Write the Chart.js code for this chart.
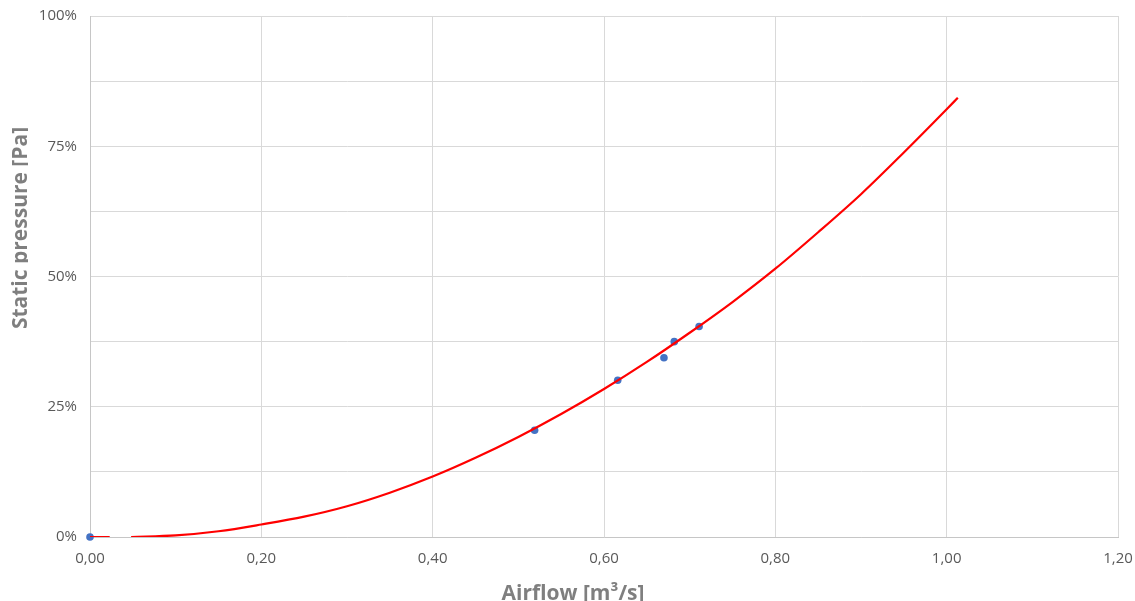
<!DOCTYPE html>
<html>
<head>
<meta charset="utf-8">
<script src="https://cdn.jsdelivr.net/npm/chart.js@4/dist/chart.umd.min.js"></script>
<style>
  html, body { margin: 0; padding: 0; background: #ffffff; }
  #wrap { width: 1135px; height: 601px; position: relative; }
</style>
</head>
<body>
<div id="wrap"><canvas id="chart" width="1135" height="601"></canvas></div>
<script>
// Measured points: airflow [m3/s] and static pressure (fraction of max)
const measuredAirflow  = [0.000, 0.519, 0.616, 0.670, 0.682, 0.711];
const measuredPressure = [0.000, 0.205, 0.301, 0.344, 0.375, 0.404];

// Fitted fan curve (null marks the break near the origin)
const curveAirflow  = [0.000, 0.023, null, 0.048, 0.10, 0.15, 0.20, 0.25, 0.30, 0.35, 0.40, 0.45, 0.50,
                       0.55, 0.60, 0.65, 0.70, 0.75, 0.80, 0.85, 0.90, 0.95, 1.00, 1.013];
const curvePressure = [0.000, 0.000, null, 0.000, 0.003, 0.011, 0.024, 0.039, 0.059, 0.085, 0.116, 0.152, 0.192,
                       0.236, 0.284, 0.336, 0.392, 0.451, 0.515, 0.585, 0.658, 0.738, 0.821, 0.843];

// Axis ticks
const xTicks = [0.00, 0.20, 0.40, 0.60, 0.80, 1.00, 1.20];
const yTicks = [0.00, 0.25, 0.50, 0.75, 1.00];

const xTitle = 'Airflow [m³/s]';
const yTitle = 'Static pressure [Pa]';

const measuredData = measuredAirflow.map((x, i) => ({ x: x, y: measuredPressure[i] }));
const curveData = curveAirflow.map((x, i) => (x === null ? { x: NaN, y: null } : { x: x, y: curvePressure[i] }));

const TEXT = '#595959';
const TITLE = '#7f7f7f';
const FONT = "'Open Sans', 'Liberation Sans', sans-serif";

// Axis titles drawn onto the canvas
const axisTitles = {
  id: 'axisTitles',
  afterDraw(chart) {
    const ctx = chart.ctx;
    ctx.save();
    ctx.fillStyle = TITLE;
    ctx.font = 'bold 21px ' + FONT;
    ctx.textAlign = 'center';
    ctx.textBaseline = 'alphabetic';
    ctx.fillText(xTitle, 573, 600);

    ctx.beginPath();
    ctx.rect(0, 0, 28, chart.height);
    ctx.clip();
    ctx.translate(27, 228);
    ctx.rotate(-Math.PI / 2);
    ctx.fillText(yTitle, 0, 0);
    ctx.restore();
  }
};

// Let the layout padding alone decide the plot edges
function noLabelPadding(scale) {
  scale.paddingLeft = 0;
  scale.paddingRight = 0;
  scale.paddingTop = 0;
  scale.paddingBottom = 0;
}

new Chart(document.getElementById('chart'), {
  type: 'scatter',
  data: {
    datasets: [
      {
        label: 'Curve',
        data: curveData,
        showLine: true,
        spanGaps: false,
        borderColor: '#ff0000',
        backgroundColor: '#ff0000',
        borderWidth: 2.2,
        pointRadius: 0,
        cubicInterpolationMode: 'monotone',
        order: 0
      },
      {
        label: 'Measured',
        data: measuredData,
        showLine: false,
        clip: false,
        backgroundColor: '#4472c4',
        borderColor: '#4472c4',
        pointRadius: 3.8,
        pointBorderWidth: 0,
        order: 1
      }
    ]
  },
  options: {
    responsive: false,
    animation: false,
    layout: { padding: { top: 16, right: 17, bottom: 0, left: 0 } },
    plugins: {
      legend: { display: false },
      tooltip: { enabled: false }
    },
    scales: {
      x: {
        type: 'linear',
        min: xTicks[0],
        max: xTicks[xTicks.length - 1],
        afterFit(scale) { scale.height = 64; noLabelPadding(scale); },
        afterBuildTicks(scale) { scale.ticks = xTicks.map(v => ({ value: v })); },
        grid: { color: '#d9d9d9', lineWidth: 1, drawTicks: false },
        border: { color: '#c6c6c6', width: 1 },
        ticks: {
          padding: 13,
          color: TEXT,
          font: { family: FONT, size: 15 },
          maxRotation: 0,
          callback: v => (Math.round(v * 100) / 100).toFixed(2).replace('.', ',')
        }
      },
      y: {
        type: 'linear',
        min: 0,
        max: 1,
        afterFit(scale) { scale.width = 90; noLabelPadding(scale); },
        afterBuildTicks(scale) {
          const t = [];
          for (let i = 0; i < yTicks.length; i++) {
            t.push({ value: yTicks[i] });
            if (i < yTicks.length - 1) t.push({ value: (yTicks[i] + yTicks[i + 1]) / 2, minor: true });
          }
          scale.ticks = t;
        },
        grid: { color: '#d9d9d9', lineWidth: 1, drawTicks: false },
        border: { color: '#c6c6c6', width: 1 },
        ticks: {
          padding: 13,
          color: TEXT,
          font: { family: FONT, size: 15 },
          callback: v => (yTicks.some(t => Math.abs(t - v) < 1e-9) ? Math.round(v * 100) + '%' : '')
        }
      }
    }
  },
  plugins: [axisTitles]
});
</script>
</body>
</html>
